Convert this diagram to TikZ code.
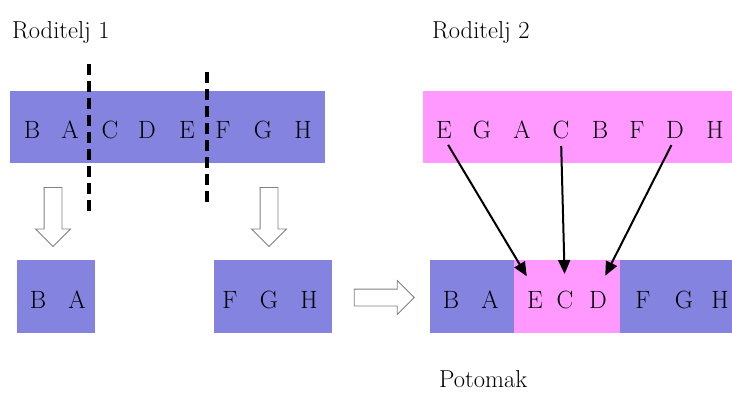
\documentclass[tikz,border=0pt]{standalone}
\usepackage{tikz}
\usetikzlibrary{calc}
\usetikzlibrary{positioning}
\usetikzlibrary{arrows.meta}
\usetikzlibrary{shapes.arrows}

\definecolor{genblue}{RGB}{132,132,224}
\definecolor{genpink}{RGB}{255,153,255}

\begin{document}
\begin{tikzpicture}[x=1pt, y=-1pt,
        lbl/.style={font=\fontsize{25}{30}\selectfont, inner sep=0pt, anchor=base},
        title/.style={font=\fontsize{24.5}{30}\selectfont, inner sep=0pt, anchor=base west},
        bluebar/.style={fill=genblue, draw=none, inner sep=0pt, anchor=north west, minimum height=72pt},
        pinkbar/.style={fill=genpink, draw=none, inner sep=0pt, anchor=north west, minimum height=72pt},
        cut/.style={line width=4.5pt, dash pattern=on 11pt off 6pt},
        hollow/.style={single arrow, draw=gray, fill=white, line width=0.9pt, inner xsep=0pt, inner ysep=8.5pt,
            minimum height=59pt, minimum width=34pt, single arrow head extend=8.5pt,
            single arrow head indent=0pt},
        gene/.style={-{Triangle[length=14pt, width=12pt]}, line width=2pt, shorten <=8pt, shorten >=16pt}]
        \useasboundingbox (0,0) rectangle (732,392);

        % roditelj 1
        \node[title] (t1) at (12,38) {Roditelj 1};
        \node[bluebar, minimum width=315pt] (r1) at (10,91) {};
        \foreach \l/\x in {B/32, A/70, C/110, D/147, E/187, F/223, G/263, H/303}
        {
            \node[lbl] (r1\l) at (\x,138) {\l};
        }
        \draw[cut] (89,64) -- (89,213);
        \draw[cut] (207,72) -- (207,203);

        % roditelj 2
        \node[title] (t2) at (432,38) {Roditelj 2};
        \node[pinkbar, minimum width=310pt] (r2) at (423,91) {};
        \foreach \l/\x in {E/444, G/482, A/522, C/561, B/600, F/637, D/675, H/715}
        {
            \node[lbl] (r2\l) at (\x,138) {\l};
        }

        % kopirani dijelovi
        \node[hollow, rotate=-90] (down1) at (53,212.5) {};
        \node[hollow, rotate=-90] (down2) at (269,212.5) {};
        \node[bluebar, minimum width=78pt, minimum height=73pt] (left) at (17,260) {};
        \node[bluebar, minimum width=118pt, minimum height=73pt] (right) at (214,260) {};
        \foreach \l/\x in {B/38, A/77}
            \node[lbl] (k\l) at (\x,308) {\l};
        \foreach \l/\x in {F/230, G/269, H/309}
            \node[lbl] (k\l) at (\x,308) {\l};
        \node[hollow, minimum height=60pt, minimum width=33pt, inner ysep=8pt] (toright) at (380,297.5) {};

        % potomak
        \node[bluebar, minimum width=84pt, minimum height=73pt] (o1) at (430,260) {};
        \node[pinkbar, minimum width=106pt, minimum height=73pt] (o2) at (514,260) {};
        \node[bluebar, minimum width=113pt, minimum height=73pt] (o3) at (620,260) {};
        \foreach \l/\x in {B/451, A/490, E/535, C/565, D/598, F/643, G/684, H/720}
        {
            \node[lbl] (o\l) at (\x,308) {\l};
        }
        \node[title] (t3) at (439,387) {Potomak};

        \draw[gene] (r2E.base) -- ($(oE.base)+(0,-18)$);
        \draw[gene] (r2C.base) -- ($(oC.base)+(0,-18)$);
        \draw[gene] (r2D.base) -- ($(oD.base)+(0,-18)$);
    \end{tikzpicture}
\end{document}
